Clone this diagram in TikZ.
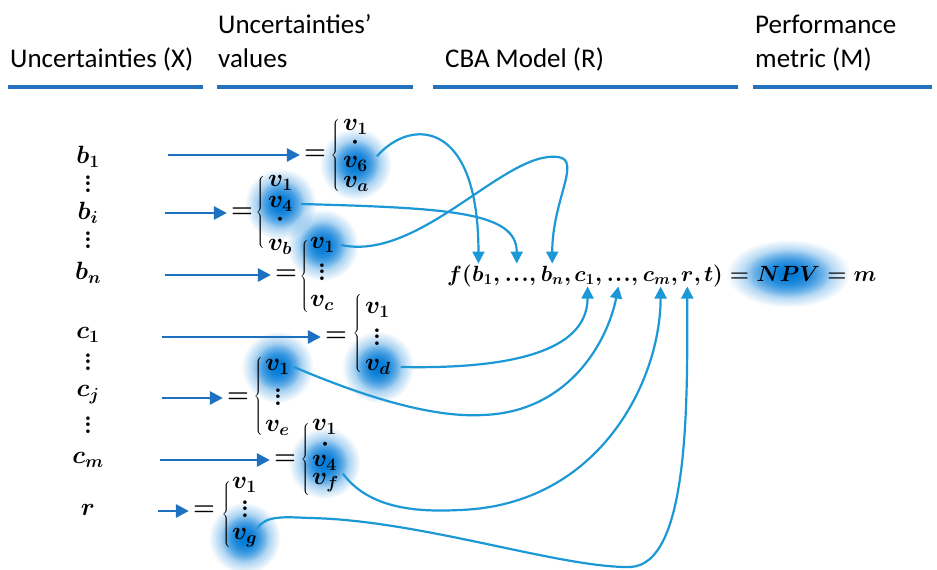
\RequirePackage{fix-cm}
\documentclass[tikz,border=0pt]{standalone}
\usepackage{fontspec}
\newfontfamily\hdrfont{Carlito}
\usetikzlibrary{arrows.meta,fadings}
\tikzfading[name=glowfade, inner color=transparent!0, outer color=transparent!100]
\pgfdeclarelayer{bg}
\pgfsetlayers{bg,main}
\definecolor{linec}{RGB}{36,113,190}
\definecolor{arrc}{RGB}{30,112,192}
\definecolor{curvc}{RGB}{28,152,214}
\definecolor{glowc}{RGB}{0,122,215}
\newcommand\tdots{.\mkern1mu.\mkern1mu.}
\newcommand\vd{\vbox{\baselineskip6.5pt\lineskiplimit0pt\hbox{\bfseries.}\hbox{\bfseries.}\hbox{\bfseries.}}}
\begin{document}
\begin{tikzpicture}[x=1pt,y=-1pt,
  hdr/.style={font=\hdrfont\fontsize{27}{33}\selectfont, anchor=base west, inner sep=0pt},
  mth/.style={font=\fontsize{25}{30}\selectfont\boldmath, inner sep=0pt},
  ent/.style={mth, anchor=west},
  fp/.style={font=\fontsize{22}{27}\selectfont\boldmath, inner sep=0pt, anchor=base west},
  eqs/.style={mth, inner sep=4pt},
  arr/.style={draw=arrc, line width=2.8pt, -{Triangle[length=13pt,width=13pt]}},
  crv/.style={draw=curvc, line width=2.2pt, -{Triangle[length=12pt,width=12pt]}, shorten >=2pt},
  uline/.style={draw=linec, line width=4.5pt},
  glow/.style={fill=glowc, path fading=glowfade},
]
\useasboundingbox (0,0) rectangle (937,570);

% headers
\node[hdr] (h1) at (10,67) {Uncertainties (X)};
\node[hdr] (h2a) at (218,33) {Uncertainties’};
\node[hdr] (h2b) at (218,67) {values};
\node[hdr] (h3) at (445,67) {CBA Model (R)};
\node[hdr] (h4a) at (755,33) {Performance};
\node[hdr] (h4b) at (755,67) {metric (M)};
\draw[uline] (8,87) -- (203,87);
\draw[uline] (217,87) -- (413,87);
\draw[uline] (433,87) -- (738,87);
\draw[uline] (753,87) -- (932,87);

% left labels
\node[mth] (xb1) at (88,157) {$b_1$};
\node[mth] (d1) at (88,184) {\vd};
\node[mth] (xbi) at (88,213) {$b_i$};
\node[mth] (d2) at (88,240) {\vd};
\node[mth] (xbn) at (88,273) {$b_n$};
\node[mth] (xc1) at (88,335) {$c_1$};
\node[mth] (d3) at (88,362) {\vd};
\node[mth] (xcj) at (88,395) {$c_j$};
\node[mth] (d4) at (88,425) {\vd};
\node[mth] (xcm) at (88,460) {$c_m$};
\node[mth] (xr) at (88,510) {$r$};

% block b1
\node[eqs] (e1) at (315,155) {$=$};
\node[mth] (br1) at (336,155) {$\left\{\vcenter{\hrule height 72pt width 0pt}\right.$};
\node[ent] (b1v1) at (343,127) {$v_1$};
\node[mth] (b1dot) at (355,143) {$\cdot$};
\node[ent] (b1v6) at (343,164) {$v_6$};
\node[ent] (b1va) at (343,184) {$v_a$};
\coordinate (s1) at (168,155);
\draw[arr] (s1) -- (e1.west);

% block bi
\node[eqs] (e2) at (242,213) {$=$};
\node[mth] (br2) at (261,212) {$\left\{\vcenter{\hrule height 76pt width 0pt}\right.$};
\node[ent] (biv1) at (268,183) {$v_1$};
\node[ent] (biv4) at (268,204) {$v_4$};
\node[mth] (bidot) at (280,220) {$\cdot$};
\node[ent] (bivb) at (268,247) {$v_b$};
\coordinate (s2) at (165,213);
\draw[arr] (s2) -- (e2.west);

% block bn
\node[eqs] (e3) at (286,275) {$=$};
\node[mth] (br3) at (305,276) {$\left\{\vcenter{\hrule height 74pt width 0pt}\right.$};
\node[ent] (bnv1) at (310,245) {$v_1$};
\node[mth] (bndots) at (322,272) {\vd};
\node[ent] (bnvc) at (310,303) {$v_c$};
\coordinate (s3) at (165,275);
\draw[arr] (s3) -- (e3.west);

% block c1
\node[eqs] (e4) at (336,337) {$=$};
\node[mth] (br4) at (358,333) {$\left\{\vcenter{\hrule height 80pt width 0pt}\right.$};
\node[ent] (c1v1) at (365,310) {$v_1$};
\node[mth] (c1dots) at (377,337) {\vd};
\node[ent] (c1vd) at (365,367) {$v_d$};
\coordinate (s4) at (162,337);
\draw[arr] (s4) -- (e4.west);

% block cj
\node[eqs] (e5) at (238,398) {$=$};
\node[mth] (br5) at (259,396) {$\left\{\vcenter{\hrule height 79pt width 0pt}\right.$};
\node[ent] (cjv1) at (265,367) {$v_1$};
\node[mth] (cjdots) at (278,397) {\vd};
\node[ent] (cjve) at (265,428) {$v_e$};
\coordinate (s5) at (162,398);
\draw[arr] (s5) -- (e5.west);

% block cm
\node[eqs] (e6) at (285,460) {$=$};
\node[mth] (br6) at (306,459) {$\left\{\vcenter{\hrule height 75pt width 0pt}\right.$};
\node[ent] (cmv1) at (312,427) {$v_1$};
\node[mth] (cmdot) at (325,445) {$\cdot$};
\node[ent] (cmv4) at (312,463) {$v_4$};
\node[ent] (cmvf) at (312,483) {$v_f$};
\coordinate (s6) at (160,460);
\draw[arr] (s6) -- (e6.west);

% block r
\node[eqs] (e7) at (204,511) {$=$};
\node[mth] (br7) at (227,514) {$\left\{\vcenter{\hrule height 69pt width 0pt}\right.$};
\node[ent] (rv1) at (232,485) {$v_1$};
\node[mth] (rdots) at (245,509) {\vd};
\node[ent] (rvg) at (232,538) {$v_g$};
\coordinate (s7) at (158,511);
\draw[arr] (s7) -- (e7.west);

% formula, piece by piece
\node[fp] (Ff) at (447,281) {$f(\vphantom{b_1}$};
\node[fp] (Fb1) at (Ff.base east) {$b_1$};
\node[fp] (Fk1) at (Fb1.base east) {$,\mkern3mu$};
\node[fp] (FdA) at (Fk1.base east) {$\tdots\vphantom{b_1}$};
\node[fp] (Fk2) at (FdA.base east) {$,\mkern3mu$};
\node[fp] (Fbn) at (Fk2.base east) {$b_n$};
\node[fp] (Fk3) at (Fbn.base east) {$,\mkern2mu$};
\node[fp] (Fc1) at (Fk3.base east) {$c_1$};
\node[fp] (Fk4) at (Fc1.base east) {$,\mkern3mu$};
\node[fp] (FdB) at (Fk4.base east) {$\tdots\vphantom{b_1}$};
\node[fp] (Fk5) at (FdB.base east) {$,\mkern3mu$};
\node[fp] (Fcm) at (Fk5.base east) {$c_m$};
\node[fp] (Fk6) at (Fcm.base east) {$,\mkern2mu$};
\node[fp] (Fr) at (Fk6.base east) {$r\vphantom{c_m}$};
\node[fp] (Fk7) at (Fr.base east) {$,\mkern2mu$};
\node[fp] (Ft) at (Fk7.base east) {$t)={}$};
\node[fp] (FNPV) at (Ft.base east) {$NPV$};
\node[fp] (Fm) at (FNPV.base east) {${}=m$};

% glows (behind)
\begin{pgfonlayer}{bg}
\foreach \g in {b1v6,biv4,bnv1,c1vd,cjv1,cmv4,rvg}{
  \fill[glow] (\g.center) circle (36pt);
  \fill[glow] (\g.center) circle (24pt);
}
\fill[glow] (FNPV.center) ellipse [x radius=62pt, y radius=34pt];
\fill[glow] (FNPV.center) ellipse [x radius=44pt, y radius=24pt];
\end{pgfonlayer}

% curves
\draw[crv] ([xshift=9pt]b1v6.north east) .. controls (410,118) and ([xshift=-4pt]Fb1.north |- 0,118) .. ([xshift=-4pt]Fb1.north);
\draw[crv] ([xshift=8pt]biv4.east) .. controls (450,208) and (FdA.north |- 0,212) .. (FdA.north);
\draw[crv] ([xshift=6pt]bnv1.east) .. controls (420,262) and (505,150) .. (558,157) .. controls (582,160) and (Fbn.north |- 0,200) .. (Fbn.north);
\draw[crv] ([xshift=10pt]c1vd.east) .. controls (500,369) and ([xshift=3pt]Fc1.south |- 0,355) .. ([xshift=3pt]Fc1.south);
\draw[crv] ([xshift=4pt]cjv1.east) .. controls (360,395) and (430,418) .. (483,415) .. controls (570,412) and (608,340) .. (FdB.south);
\draw[crv] ([xshift=4pt]cmvf.north east) .. controls (370,510) and (420,512) .. (460,510) .. controls (600,505) and ([xshift=4pt]Fcm.south |- 0,380) .. ([xshift=4pt]Fcm.south);
\draw[crv] (rvg.north east) .. controls (265,515) and (285,517) .. (310,518) .. controls (420,520) and (560,568) .. (630,567) .. controls (690,565) and (Fr.south |- 0,400) .. (Fr.south);
\end{tikzpicture}
\end{document}
